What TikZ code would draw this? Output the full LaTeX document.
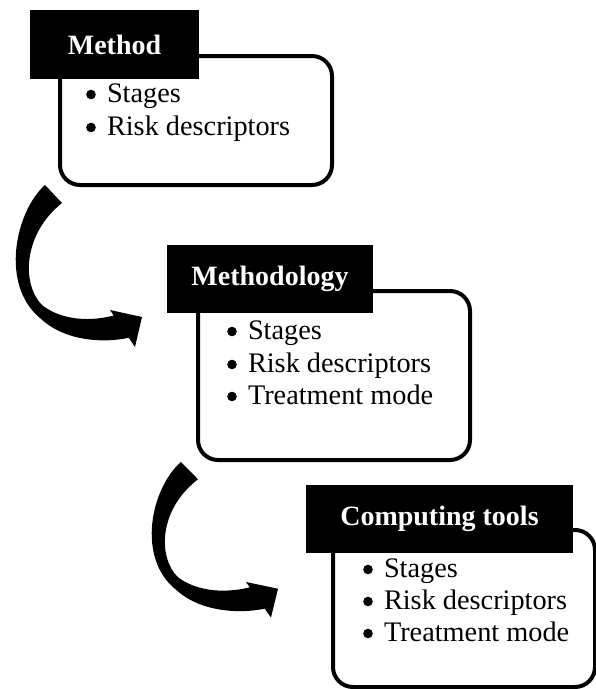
\documentclass[tikz,border=0pt]{standalone}
\usepackage{fontspec}
\setmainfont{Liberation Serif}
\newcommand{\mycurvearrow}{%
  (45,185) .. controls (15,212) and (0,285) .. (40,318)
  .. controls (65,342) and (105,343) .. (128.75,337.75)
  -- (135,347) -- (142,317) -- (110,310) -- (113.75,315.5)
  .. controls (85,323) and (58,318) .. (42,305)
  .. controls (22,285) and (22,235) .. (62,203) -- cycle}
\begin{document}
\begin{tikzpicture}[x=1pt,y=-1pt,
  panel/.style={draw=black, line width=4pt, fill=white, rounded corners=20pt,
    rectangle, inner sep=0pt, outer sep=0pt},
  tag/.style={fill=black, draw=none, rectangle, inner sep=0pt, outer sep=0pt,
    text=white, font=\fontsize{28}{33}\selectfont\bfseries, minimum height=68pt},
  item/.style={anchor=base west, inner sep=0pt, outer sep=0pt,
    font=\fontsize{28.3}{33}\selectfont},
  bul/.style={fill=black}]
\useasboundingbox (0,0) rectangle (596,689);
% boxes
\node[panel, minimum width=272pt, minimum height=129pt] (box1) at (196,120.5) {};
\node[panel, minimum width=272pt, minimum height=169pt] (box2) at (334,375.5) {};
\node[panel, minimum width=262pt, minimum height=157pt] (box3) at (464,608.5) {};
% labels
\node[tag, minimum width=169pt, minimum height=69pt] (tag1) at (114.5,44.5) {Method};
\node[tag, minimum width=206pt] (tag2) at (270,279) {Methodology};
\node[tag, minimum width=267pt] (tag3) at (439.5,519) {Computing tools};
% items
\node[item] (i11) at (107,102) {Stages};
\node[item] (i12) at (107,135) {Risk descriptors};
\node[item] (i21) at (248,339) {Stages};
\node[item] (i22) at (248,372) {Risk descriptors};
\node[item] (i23) at (248,404) {Treatment mode};
\node[item] (i31) at (384,577) {Stages};
\node[item] (i32) at (384,609) {Risk descriptors};
\node[item] (i33) at (384,641) {Treatment mode};
% bullets
\foreach \n in {i11,i12,i21,i22,i23,i31,i32,i33}
  \fill[bul] ([shift={(-16,-7.5)}]\n.base west) circle (4.8pt);
% arrows
\fill[black] \mycurvearrow;
\begin{scope}[shift={(136,462)}, yscale=0.96, shift={(0,-185)}]
\fill[black] \mycurvearrow;
\end{scope}
\end{tikzpicture}
\end{document}
